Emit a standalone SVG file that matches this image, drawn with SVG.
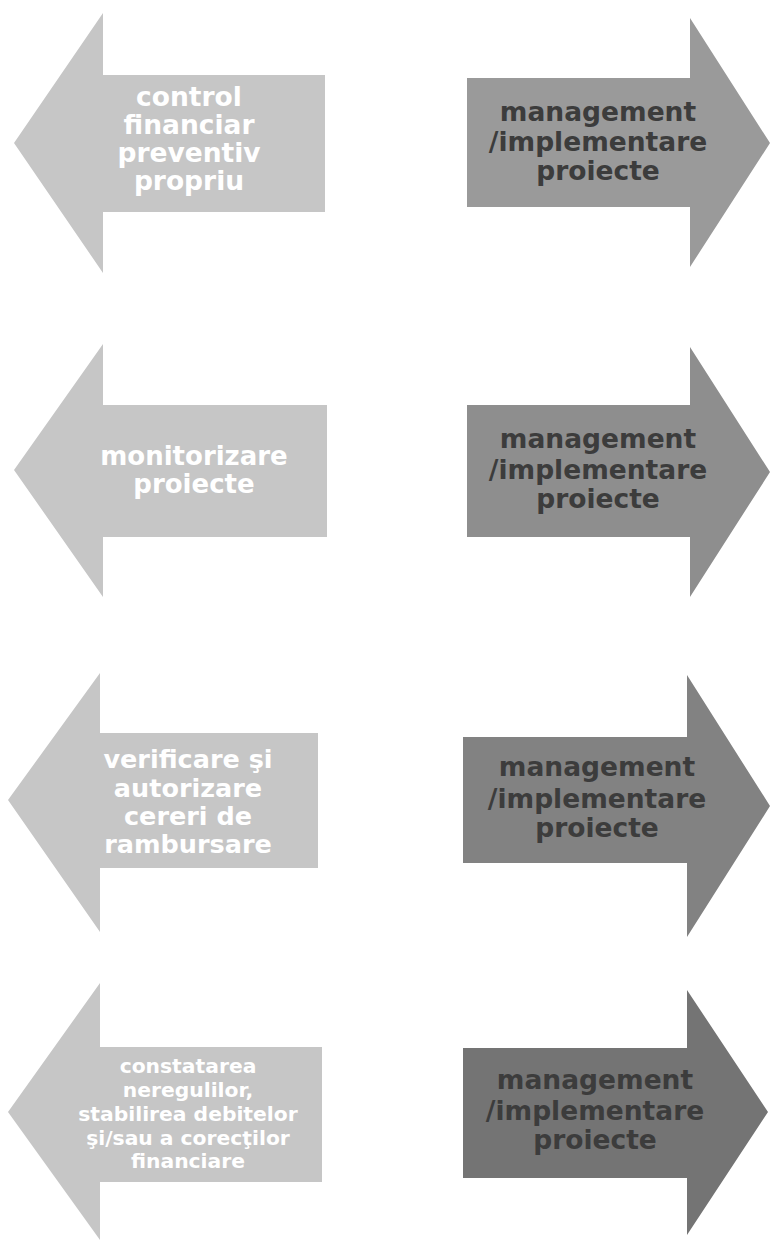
<svg xmlns="http://www.w3.org/2000/svg" width="770" height="1240" viewBox="0 0 770 1240">
<style>
.bg{fill:#ffffff}
.la{fill:#c6c6c6}
.r1{fill:#9a9a9a}
.r2{fill:#8e8e8e}
.r3{fill:#828282}
.r4{fill:#747474}
.lt{font-family:"DejaVu Sans","Verdana",sans-serif;font-weight:bold;fill:#ffffff;text-anchor:middle}
.rt{font-family:"DejaVu Sans","Verdana",sans-serif;font-weight:bold;font-size:26.5px;fill:#3c3c3c;text-anchor:middle}
</style>
<rect class="bg" x="0" y="0" width="770" height="1240"/>
<g id="left1">
<polygon class="la" points="14,143 103,13 103,75 325,75 325,212 103,212 103,273"/>
<text class="lt" font-size="26.5" x="188"><tspan x="189" y="106">control</tspan><tspan x="189" y="134">financiar</tspan><tspan x="189" y="162">preventiv</tspan><tspan x="189" y="190">propriu</tspan></text>
</g>
<g id="right1">
<polygon class="r1" points="467,78 690,78 690,18 770,143 690,267 690,207 467,207"/>
<text class="rt"><tspan x="598" y="121">management</tspan><tspan x="598" y="151">/implementare</tspan><tspan x="598" y="180">proiecte</tspan></text>
</g>
<g id="left2">
<polygon class="la" points="14,470 103,344 103,405 327,405 327,537 103,537 103,597"/>
<text class="lt" font-size="26" x="194"><tspan x="194" y="465">monitorizare</tspan><tspan x="194" y="493">proiecte</tspan></text>
</g>
<g id="right2">
<polygon class="r2" points="467,405 690,405 690,347 770,472 690,597 690,537 467,537"/>
<text class="rt"><tspan x="598" y="448">management</tspan><tspan x="598" y="479">/implementare</tspan><tspan x="598" y="508">proiecte</tspan></text>
</g>
<g id="left3">
<polygon class="la" points="8,800 100,673 100,733 318,733 318,868 100,868 100,932"/>
<text class="lt" font-size="25.5" x="188"><tspan x="188" y="768">verificare şi</tspan><tspan x="188" y="797">autorizare</tspan><tspan x="188" y="825">cereri de</tspan><tspan x="188" y="853">rambursare</tspan></text>
</g>
<g id="right3">
<polygon class="r3" points="463,737 687,737 687,675 770,806 687,937 687,863 463,863"/>
<text class="rt"><tspan x="597" y="776">management</tspan><tspan x="597" y="808">/implementare</tspan><tspan x="597" y="837">proiecte</tspan></text>
</g>
<g id="left4">
<polygon class="la" points="8,1112 100,983 100,1047 322,1047 322,1182 100,1182 100,1240"/>
<text class="lt" font-size="20.3" x="188"><tspan x="188" y="1073">constatarea</tspan><tspan x="188" y="1097">neregulilor,</tspan><tspan x="188" y="1121">stabilirea debitelor</tspan><tspan x="188" y="1145">şi/sau a corecţilor</tspan><tspan x="188" y="1168">financiare</tspan></text>
</g>
<g id="right4">
<polygon class="r4" points="463,1048 687,1048 687,990 768,1112 687,1235 687,1178 463,1178"/>
<text class="rt"><tspan x="595" y="1089">management</tspan><tspan x="595" y="1120">/implementare</tspan><tspan x="595" y="1149">proiecte</tspan></text>
</g>
<g id="connectors"></g>
</svg>
